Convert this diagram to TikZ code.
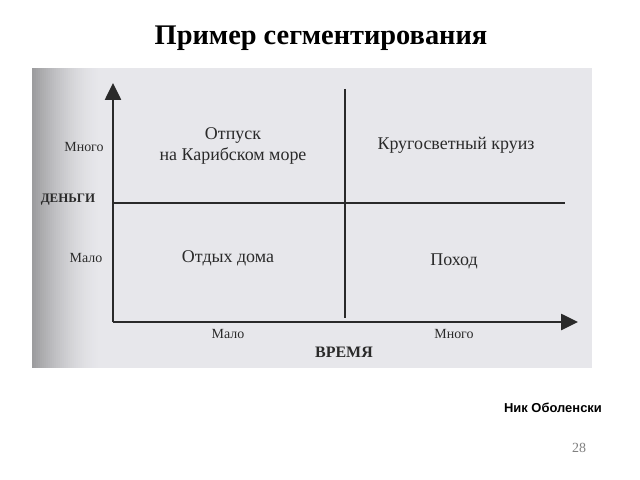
\documentclass[tikz,border=0pt]{standalone}
\usepackage{fontspec}
\setmainfont{Liberation Serif}
\newfontfamily\labsans{Liberation Sans}
\usetikzlibrary{arrows.meta}
\definecolor{scanbg}{HTML}{E7E7EB}
\definecolor{scanedge}{HTML}{9C9C9E}
\definecolor{ink}{HTML}{2A2A2A}
\begin{document}
\begin{tikzpicture}[x=1bp,y=-1bp,
  axis/.style={draw=ink,line width=2.6bp,-{Triangle[length=17bp,width=16bp]}},
  divider/.style={draw=ink,line width=1.6bp},
  tick/.style={font=\fontsize{14}{16}\selectfont,text=ink,inner sep=0pt},
  quad/.style={font=\fontsize{18}{21}\selectfont,text=ink,inner sep=0pt,align=center},
  axname/.style={font=\bfseries\fontsize{14}{16}\selectfont,text=ink,inner sep=0pt}]
\useasboundingbox (0,0) rectangle (640,480);
\fill[white] (0,0) rectangle (640,480);
% scanned picture background with darker left edge
\fill[scanbg] (32,68) rectangle (592,368);
\foreach \i in {0,...,33} {
  \pgfmathsetmacro{\pct}{100*(1-\i/34)^1.6}
  \fill[scanedge!\pct!scanbg] (32+2*\i,68) rectangle (34.6+2*\i,368);
}
% title
\node[font=\bfseries\fontsize{28.5}{32}\selectfont,inner sep=0pt] (title) at (321,38) {Пример сегментирования};
% axes
\coordinate (o) at (113,322);
\coordinate (ytip) at (113,83);
\coordinate (xtip) at (578,322);
\draw[axis] (o) -- (ytip);
\draw[axis] (o) -- (xtip);
% dividers
\coordinate (hl) at (113,203);
\coordinate (hr) at (565,203);
\coordinate (vt) at (345,89);
\coordinate (vb) at (345,318);
\draw[divider] (hl) -- (hr);
\draw[divider] (vt) -- (vb);
% labels
\node[tick] (ymany) at (84,147) {Много};
\node[axname,font=\bfseries\fontsize{13}{15}\selectfont] (money) at (68,200) {ДЕНЬГИ};
\node[tick] (yfew) at (86,258) {Мало};
\node[tick] (xfew) at (228,334) {Мало};
\node[tick] (xmany) at (454,334) {Много};
\node[axname,font=\bfseries\fontsize{16}{18}\selectfont] (time) at (344,352) {ВРЕМЯ};
\node[quad] (q1) at (233,146) {Отпуск\\на Карибском море};
\node[quad] (q2) at (456,145) {Кругосветный круиз};
\node[quad] (q3) at (228,258) {Отдых дома};
\node[quad] (q4) at (454,261) {Поход};
% footer
\node[font=\labsans\bfseries\fontsize{13}{15}\selectfont,inner sep=0pt] (author) at (553,408) {Ник Оболенски};
\node[font=\fontsize{14}{16}\selectfont,text=gray,inner sep=0pt] (page) at (579,448) {28};
\end{tikzpicture}
\end{document}
